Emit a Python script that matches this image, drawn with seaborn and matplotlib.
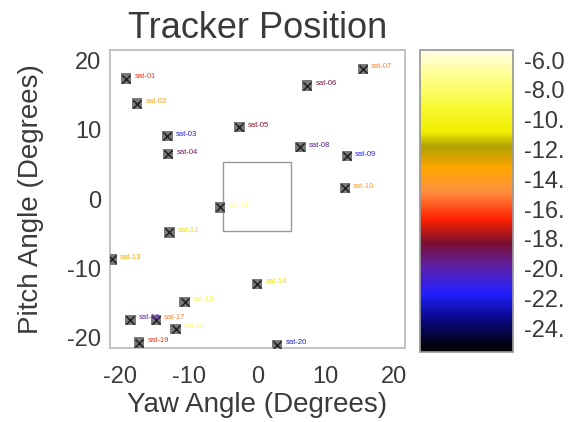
import numpy as np
import pandas as pd
import seaborn as sns
import matplotlib.pyplot as plt
from matplotlib.colors import LinearSegmentedColormap, Normalize
from matplotlib.colorbar import ColorbarBase
import matplotlib.patches as patches

# tracker positions (degrees) and signal level
yaw = [-19.1, -17.5, -13.1, -13.0, -2.6, 7.3, 15.4, 6.3, 13.1, 12.8,
       -5.4, -12.8, -21.2, 0.0, -10.6, -18.5, -14.8, -11.9, -17.2, 2.9]
pitch = [17.4, 13.8, 9.1, 6.5, 10.4, 16.4, 18.8, 7.5, 6.2, 1.6,
         -1.2, -4.8, -8.7, -12.2, -14.8, -17.4, -17.4, -18.7, -20.7, -21.0]
level = [-16.5, -13.5, -21.5, -19.0, -18.0, -18.5, -15.0, -19.5, -21.5, -14.0,
         -7.0, -11.0, -13.0, -11.0, -9.0, -20.0, -15.0, -8.0, -16.5, -22.0]
names = ["sat-01", "sat-02", "sat-03", "sat-04", "sat-05", "sat-06", "sat-07",
         "sat-08", "sat-09", "sat-10", "sat-11", "sat-12", "sat-13", "sat-14",
         "sat-15", "sat-16", "sat-17", "sat-18", "sat-19", "sat-20"]

cbar_ticks = [-6, -8, -10, -12, -14, -16, -18, -20, -22, -24]
cbar_labels = ["-6.0", "-8.0", "-10.", "-12.", "-14.", "-16.", "-18.", "-20.", "-22.", "-24."]

# colour stops of the colour bar: level -> colour
stop_levels = [-25.6, -25.0, -23.3, -21.7, -20.0, -18.3, -16.7, -14.8, -13.2, -11.8, -10.8, -9.2, -7.0, -5.3]
stop_colors = ["#000000", "#02021a", "#0a0a90", "#2020ff", "#5a20b0", "#7a1030", "#ff2000",
               "#ff9040", "#ffa500", "#b0a000", "#f2ee00", "#f8f830", "#ffff90", "#fffde8"]

df = pd.DataFrame({"yaw": yaw, "pitch": pitch, "level": level, "name": names})

sns.set_theme(style="white")
plt.rcParams['font.family'] = ['Liberation Sans', 'DejaVu Sans']
plt.rcParams['axes.unicode_minus'] = False

vmin, vmax = stop_levels[0], stop_levels[-1]
cmap = LinearSegmentedColormap.from_list(
    "tracker", [((v - vmin) / (vmax - vmin), c) for v, c in zip(stop_levels, stop_colors)])
norm = Normalize(vmin=vmin, vmax=vmax)

fig = plt.figure(figsize=(5.78, 4.22), dpi=100)
ax = fig.add_axes([0.190, 0.175, 0.510, 0.706])

sns.scatterplot(data=df, x="yaw", y="pitch", marker="s", s=55, color="#7a7a7a",
                edgecolor="none", ax=ax, zorder=3)
sns.scatterplot(data=df, x="yaw", y="pitch", marker="x", s=35, color="#222222",
                linewidth=1.1, ax=ax, zorder=4)

for _, r in df.iterrows():
    ax.text(r["yaw"] + 1.2, r["pitch"] + 0.3, r["name"], fontsize=5.5,
            color=cmap(norm(r["level"])), va="center", ha="left", zorder=5)

ax.add_patch(patches.Rectangle((-5, -4.6), 10, 10, fill=False,
                               edgecolor="#999999", lw=1))

ax.set_xlim(-21.5, 21.5)
ax.set_ylim(-21.5, 21.5)
ax.set_xticks([-20, -10, 0, 10, 20])
ax.set_yticks([-20, -10, 0, 10, 20])
ax.tick_params(labelsize=17, colors="#3a3a3a", length=0)
ax.tick_params(axis="x", pad=13)
ax.tick_params(axis="y", pad=6)
ax.set_xlabel("Yaw Angle (Degrees)", fontsize=20, color="#3a3a3a", labelpad=3)
ax.set_ylabel("Pitch Angle (Degrees)", fontsize=20, color="#3a3a3a", labelpad=17)
ax.set_title("Tracker Position", fontsize=26, color="#3a3a3a", pad=9)
for s in ax.spines.values():
    s.set_color("#bbbbbb")

cax = fig.add_axes([0.727, 0.166, 0.161, 0.716])
cb = ColorbarBase(cax, cmap=cmap, norm=norm, orientation="vertical")
cb.set_ticks(cbar_ticks)
cb.set_ticklabels(cbar_labels)
cb.ax.tick_params(labelsize=17, colors="#3a3a3a", length=0, pad=8)
cb.outline.set_edgecolor("#999999")

plt.savefig("out.png", dpi=100)
